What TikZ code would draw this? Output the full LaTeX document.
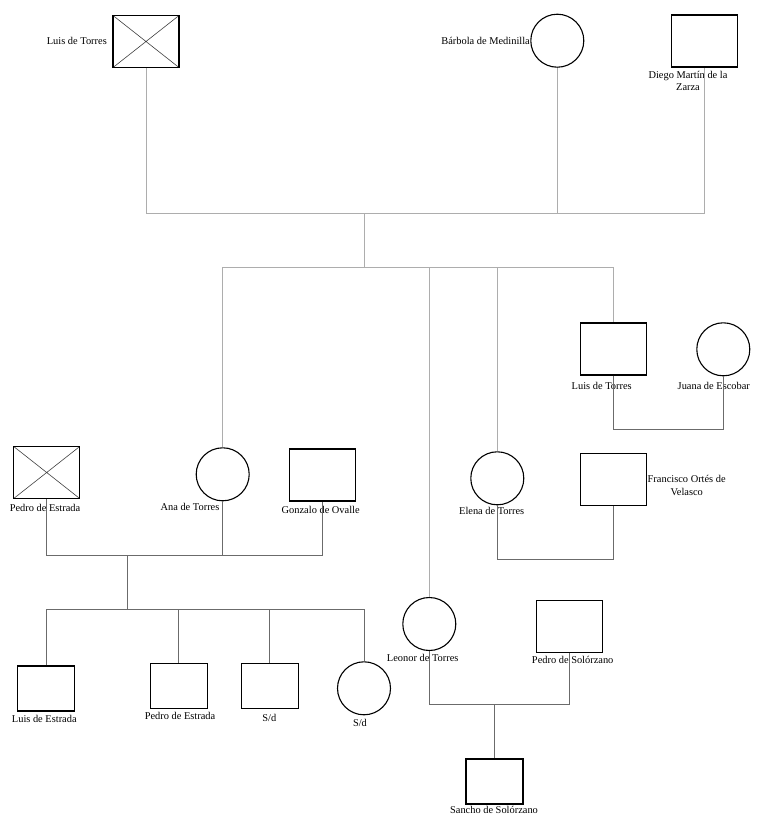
\documentclass[tikz,border=0pt]{standalone}
\usepackage{fontspec}
\setmainfont{Liberation Serif}
\begin{document}
\begin{tikzpicture}[x=1pt,y=-1pt,
  mbox/.style={draw=black,line width=1.1pt,rectangle,inner sep=0pt,minimum width=66pt,minimum height=52pt},
  smbox/.style={mbox,minimum width=57pt,minimum height=45pt},
  fcirc/.style={draw=black,line width=1.1pt,circle,inner sep=0pt,minimum size=53pt},
  deadbox/.style={mbox,path picture={\draw[line width=0.6pt,black!75]
      (path picture bounding box.north west) -- (path picture bounding box.south east)
      (path picture bounding box.south west) -- (path picture bounding box.north east);}},
  lbl/.style={inner sep=0pt,font=\fontsize{10.4}{12.5}\selectfont,align=center},
  lite/.style={draw=black!32,line width=0.8pt},
  mid/.style={draw=black!58,line width=0.8pt}]
\useasboundingbox (0,0) rectangle (758,815);

% first generation
\node[deadbox] (luisA)   at (146,41.5) {};
\node[fcirc]   (barbola) at (557.3,40.7) {};
\node[mbox]    (diego)   at (704.5,41) {};
\node[lbl,anchor=east] (tluisA) at (107,41) {Luis de Torres};
\node[lbl,anchor=east] (tbarbola) at (530,41) {Bárbola de Medinilla};
\node[lbl] (tdiego) at (688,81) {Diego Martín de la\\Zarza};

% second generation
\node[mbox]    (luisB)     at (613.7,349) {};
\node[fcirc]   (juana)     at (723.3,349.3) {};
\node[deadbox] (pedroA)    at (46.7,472.5) {};
\node[fcirc]   (ana)       at (222.7,474.3) {};
\node[mbox]    (gonzalo)   at (322.2,475) {};
\node[fcirc]   (elena)     at (497.3,478.3) {};
\node[mbox]    (francisco) at (613.2,479.9) {};
\node[fcirc]   (leonor)    at (429.3,624) {};
\node[mbox]    (pedroS)    at (569.5,626.8) {};
\node[lbl] (tluisB)     at (601.7,385.7) {Luis de Torres};
\node[lbl,anchor=west] (tjuana) at (677.5,385.7) {Juana de Escobar};
\node[lbl] (tpedroA)    at (45,507.7) {Pedro de Estrada};
\node[lbl] (tana)       at (190,506.7) {Ana de Torres};
\node[lbl] (tgonzalo)   at (320.7,510) {Gonzalo de Ovalle};
\node[lbl] (telena)     at (491.7,511) {Elena de Torres};
\node[lbl] (tfrancisco) at (686.7,485.3) {Francisco Ortés de\\Velasco};
\node[lbl] (tleonor)    at (422.7,657.7) {Leonor de Torres};
\node[lbl] (tpedroS)    at (572.7,660.3) {Pedro de Solórzano};

% third generation
\node[smbox] (luisE)  at (46.3,688.5) {};
\node[smbox] (pedroE) at (178.8,685.8) {};
\node[smbox] (sdA)    at (269.7,685.8) {};
\node[fcirc] (sdB)    at (364,688.3) {};
\node[smbox] (sancho) at (494.5,781.5) {};
\node[lbl] (tluisE)  at (44.3,719) {Luis de Estrada};
\node[lbl] (tpedroE) at (180,716) {Pedro de Estrada};
\node[lbl] (tsdA)    at (269.3,718.3) {S/d};
\node[lbl] (tsdB)    at (360,723.3) {S/d};
\node[lbl] (tsancho) at (494,810) {Sancho de Solórzano};

% junction points
\coordinate (top) at (364,213);
\coordinate (sib) at (364,267.3);
\coordinate (pj)  at (127.7,555);
\coordinate (kb)  at (127.7,609);
\coordinate (lj)  at (494.5,704.3);

% parents of the Torres siblings
\draw[lite] (luisA.south) |- (diego.south |- top) -- (diego.south);
\draw[lite] (barbola.south) -- (barbola.south |- top);
\draw[lite] (top) -- (sib);
\draw[lite] (ana.north) |- (luisB.north |- sib) -- (luisB.north);
\draw[lite] (leonor.north) -- (leonor.north |- sib);
\draw[lite] (elena.north) -- (elena.north |- sib);

% couples and their children
\draw[mid] (luisB.south) |- (juana.south |- 0,429) -- (juana.south);
\draw[mid] (elena.south) |- (francisco.south |- 0,559) -- (francisco.south);
\draw[mid] (pedroA.south) |- (gonzalo.south |- pj) -- (gonzalo.south);
\draw[mid] (ana.south) -- (ana.south |- pj);
\draw[mid] (pj) -- (kb);
\draw[mid] (luisE.north) |- (sdB.north |- kb) -- (sdB.north);
\draw[mid] (pedroE.north) -- (pedroE.north |- kb);
\draw[mid] (sdA.north) -- (sdA.north |- kb);
\draw[mid] (leonor.south) |- (pedroS.south |- lj) -- (pedroS.south);
\draw[mid] (lj) -- (sancho.north);
\end{tikzpicture}
\end{document}
